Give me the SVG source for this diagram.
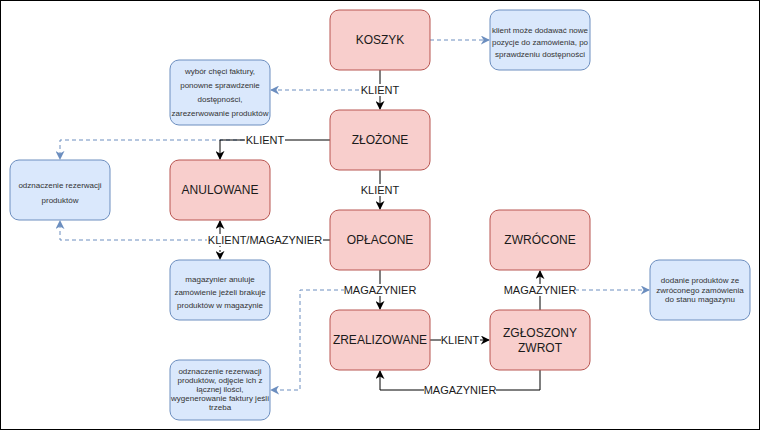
<svg xmlns="http://www.w3.org/2000/svg" width="761" height="431" viewBox="0 0 761 431">
<defs>
<style>
.state{fill:#f8cecc;stroke:#b85450;stroke-width:1}
.note{fill:#dae8fc;stroke:#6c8ebf;stroke-width:1}
.st{font-family:"Liberation Sans",Arial,sans-serif;font-size:12px;fill:#1a1a1a;text-anchor:middle}
.nt{font-family:"Liberation Sans",Arial,sans-serif;font-size:8px;fill:#333;text-anchor:middle}
.lb{font-family:"Liberation Sans",Arial,sans-serif;font-size:11px;fill:#1a1a1a;text-anchor:middle}
.edge{fill:none;stroke:#000;stroke-width:1}
.dash{fill:none;stroke:#6c8ebf;stroke-width:1;stroke-dasharray:4 3}
.dashk{fill:none;stroke:#000;stroke-width:1;stroke-dasharray:2 3}
.lbg{fill:#fff}
</style>
<marker id="ab" viewBox="0 0 10 10" refX="9" refY="5" markerWidth="9" markerHeight="9" markerUnits="userSpaceOnUse" orient="auto">
<path d="M0,0 L10,5 L0,10 L3,5 Z" fill="#000"/>
</marker>
<marker id="ablue" viewBox="0 0 10 10" refX="9" refY="5" markerWidth="9" markerHeight="9" markerUnits="userSpaceOnUse" orient="auto">
<path d="M0,0 L10,5 L0,10 L3,5 Z" fill="#6c8ebf"/>
</marker>
</defs>
<rect x="0.5" y="0.5" width="759" height="429" fill="#fff" stroke="#000" stroke-width="1"/>

<g id="connectors">
<path class="dash" d="M430,40 L489,40" marker-end="url(#ablue)"/>
<path class="dash" d="M380,90 L271,90" marker-end="url(#ablue)"/>
<path class="dash" d="M265,140 L60,140 L60,159" marker-end="url(#ablue)"/>
<path class="dash" d="M265,240 L60,240 L60,221" marker-end="url(#ablue)"/>
<path class="dashk" d="M220,240 L220,259" marker-end="url(#ab)"/>
<path class="dash" d="M380,290 L300,290 L300,390 L271,390" marker-end="url(#ablue)"/>
<path class="dash" d="M540,290 L649,290" marker-end="url(#ablue)"/>
<path class="edge" d="M380,70 L380,109" marker-end="url(#ab)"/>
<path class="edge" d="M330,140 L220,140 L220,159" marker-end="url(#ab)"/>
<path class="edge" d="M380,170 L380,209" marker-end="url(#ab)"/>
<path class="edge" d="M330,240 L220,240 L220,221" marker-end="url(#ab)"/>
<path class="edge" d="M380,270 L380,309" marker-end="url(#ab)"/>
<path class="edge" d="M430,340 L489,340" marker-end="url(#ab)"/>
<path class="edge" d="M540,370 L540,390 L380,390 L380,371" marker-end="url(#ab)"/>
<path class="edge" d="M540,310 L540,271" marker-end="url(#ab)"/>
<rect class="lbg" x="360" y="84" width="40" height="12"/>
<text class="lb" x="380" y="94">KLIENT</text>
<rect class="lbg" x="245" y="134" width="40" height="12"/>
<text class="lb" x="265" y="144">KLIENT</text>
<rect class="lbg" x="360" y="184" width="40" height="12"/>
<text class="lb" x="380" y="194">KLIENT</text>
<rect class="lbg" x="207" y="234" width="116" height="12"/>
<text class="lb" x="265" y="244">KLIENT/MAGAZYNIER</text>
<rect class="lbg" x="344" y="284" width="72" height="12"/>
<text class="lb" x="380" y="294">MAGAZYNIER</text>
<rect class="lbg" x="441" y="334" width="39" height="12"/>
<text class="lb" x="460" y="344">KLIENT</text>
<rect class="lbg" x="424" y="384" width="72" height="12"/>
<text class="lb" x="460" y="394">MAGAZYNIER</text>
<rect class="lbg" x="504" y="284" width="72" height="12"/>
<text class="lb" x="540" y="294">MAGAZYNIER</text>
</g>

<g id="koszyk"><rect class="state" x="330" y="10" width="100" height="60" rx="9"/><text class="st" x="380" y="44">KOSZYK</text></g>
<g id="zlozone"><rect class="state" x="330" y="110" width="100" height="60" rx="9"/><text class="st" x="380" y="144">ZŁOŻONE</text></g>
<g id="anulowane"><rect class="state" x="170" y="160" width="100" height="60" rx="9"/><text class="st" x="220" y="194">ANULOWANE</text></g>
<g id="oplacone"><rect class="state" x="330" y="210" width="100" height="60" rx="9"/><text class="st" x="380" y="244">OPŁACONE</text></g>
<g id="zwrocone"><rect class="state" x="490" y="210" width="100" height="60" rx="9"/><text class="st" x="540" y="244">ZWRÓCONE</text></g>
<g id="zrealizowane"><rect class="state" x="330" y="310" width="100" height="60" rx="9"/><text class="st" x="380" y="344">ZREALIZOWANE</text></g>
<g id="zgloszony-zwrot"><rect class="state" x="490" y="310" width="100" height="60" rx="9"/><text class="st" x="540" y="337">ZGŁOSZONY</text><text class="st" x="540" y="352">ZWROT</text></g>

<g id="note-koszyk"><rect class="note" x="490" y="10" width="100" height="60" rx="9"/>
<text class="nt" x="540" y="33">klient może dodawać nowe</text>
<text class="nt" x="540" y="45">pozycje do zamówienia, po</text>
<text class="nt" x="540" y="57">sprawdzeniu dostępności</text></g>
<g id="note-zlozone"><rect class="note" x="170" y="60" width="100" height="65" rx="9"/>
<text class="nt" x="220" y="74">wybór chęci faktury,</text>
<text class="nt" x="220" y="88">ponowne sprawdzenie</text>
<text class="nt" x="220" y="102">dostępności,</text>
<text class="nt" x="220" y="116">zarezerwowanie produktów</text></g>
<g id="note-anulowane"><rect class="note" x="10" y="160" width="100" height="60" rx="9"/>
<text class="nt" x="60" y="188">odznaczenie rezerwacji</text>
<text class="nt" x="60" y="203">produktów</text></g>
<g id="note-magazynier"><rect class="note" x="170" y="260" width="100" height="60" rx="9"/>
<text class="nt" x="220" y="282">magazynier anuluje</text>
<text class="nt" x="220" y="295">zamówienie jeżeli brakuje</text>
<text class="nt" x="220" y="308">produktów w magazynie</text></g>
<g id="note-zwrot"><rect class="note" x="650" y="260" width="100" height="60" rx="9"/>
<text class="nt" x="700" y="283">dodanie produktów ze</text>
<text class="nt" x="700" y="293">zwróconego zamówienia</text>
<text class="nt" x="700" y="302">do stanu magazynu</text></g>
<g id="note-zrealizowane"><rect class="note" x="170" y="360" width="100" height="60" rx="9"/>
<text class="nt" x="220" y="374">odznaczenie rezerwacji</text>
<text class="nt" x="220" y="383">produktów, odjęcie ich z</text>
<text class="nt" x="220" y="392">łącznej ilości,</text>
<text class="nt" x="220" y="401">wygenerowanie faktury jeśli</text>
<text class="nt" x="220" y="410">trzeba</text></g>
</svg>
